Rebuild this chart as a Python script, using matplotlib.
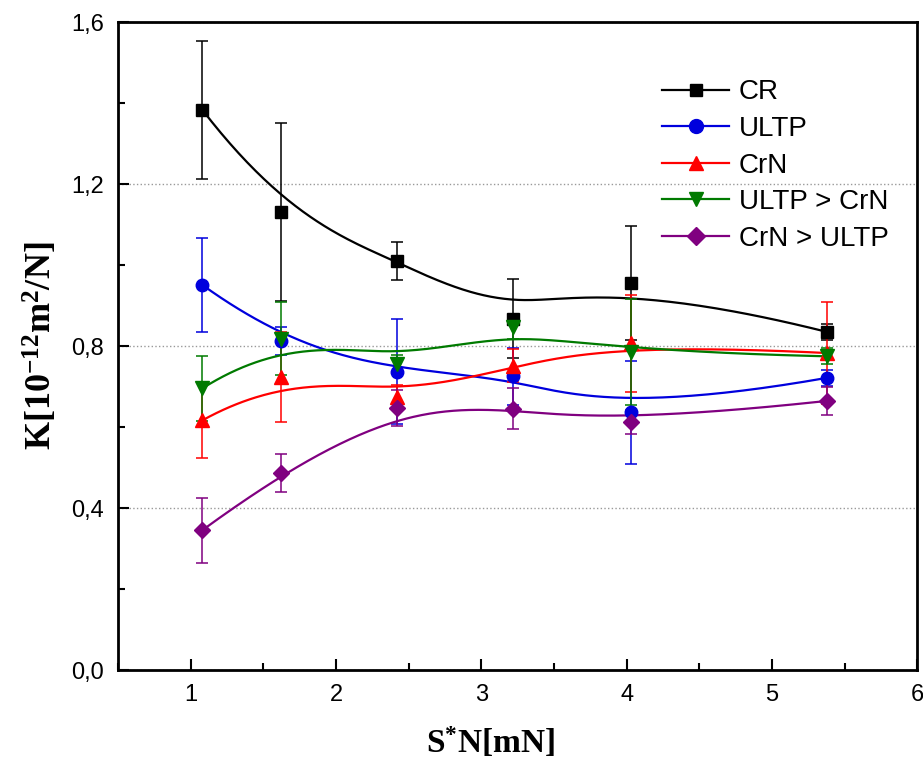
import matplotlib
matplotlib.use('Agg')
import matplotlib.pyplot as plt
from matplotlib.lines import Line2D
from matplotlib.ticker import FuncFormatter, MultipleLocator
import numpy as np

plt.rcParams['font.family'] = 'Liberation Sans'
plt.rcParams['mathtext.fontset'] = 'custom'
plt.rcParams['mathtext.rm'] = 'Liberation Serif'
plt.rcParams['mathtext.bf'] = 'Liberation Serif:bold'

# data
x = [1.08, 1.62, 2.42, 3.22, 4.03, 5.38]
names = ['CR', 'ULTP', 'CrN', 'ULTP > CrN', 'CrN > ULTP']
cr = [1.383, 1.132, 1.011, 0.868, 0.956, 0.835]
cr_err = [0.17, 0.22, 0.047, 0.097, 0.14, 0.02]
ultp = [0.951, 0.812, 0.737, 0.726, 0.637, 0.722]
ultp_err = [0.116, 0.035, 0.13, 0.07, 0.127, 0.02]
crn = [0.617, 0.724, 0.675, 0.752, 0.807, 0.783]
crn_err = [0.093, 0.11, 0.03, 0.04, 0.12, 0.125]
ultp_crn = [0.696, 0.818, 0.757, 0.848, 0.786, 0.775]
ultp_crn_err = [0.08, 0.09, 0.02, 0.03, 0.13, 0.02]
crn_ultp = [0.346, 0.487, 0.648, 0.646, 0.613, 0.665]
crn_ultp_err = [0.08, 0.047, 0.045, 0.05, 0.03, 0.035]

series = [cr, ultp, crn, ultp_crn, crn_ultp]
errors = [cr_err, ultp_err, crn_err, ultp_crn_err, crn_ultp_err]
colors = ['black', '#0000dd', '#ff0000', '#007a00', '#800080']
markers = ['s', 'o', '^', 'v', 'D']
msizes = [8, 9, 9.5, 9.5, 8]


def bspline(px, py, k=3, num=300):
    # clamped cubic B-spline using the points as control points (Origin style)
    px = np.asarray(px, float)
    py = np.asarray(py, float)
    n = len(px)
    knots = np.concatenate([np.zeros(k), np.linspace(0, 1, n - k + 1), np.ones(k)])
    u = np.linspace(0, 1 - 1e-9, num)
    B = np.zeros((num, len(knots) - 1))
    for i in range(len(knots) - 1):
        B[:, i] = (u >= knots[i]) & (u < knots[i + 1])
    for d in range(1, k + 1):
        Bn = np.zeros((num, len(knots) - 1 - d))
        for i in range(len(knots) - 1 - d):
            a = knots[i + d] - knots[i]
            b = knots[i + d + 1] - knots[i + 1]
            t1 = (u - knots[i]) / a * B[:, i] if a > 0 else 0
            t2 = (knots[i + d + 1] - u) / b * B[:, i + 1] if b > 0 else 0
            Bn[:, i] = t1 + t2
        B = Bn
    return B @ px, B @ py


fig = plt.figure(figsize=(9.23, 7.6), dpi=100)
ax = fig.add_axes([0.128, 0.118, 0.866, 0.853])

handles = []
for vals, err, c, m, ms, name in zip(series, errors, colors, markers, msizes, names):
    sx, sy = bspline(x, vals)
    ax.plot(sx, sy, color=c, linewidth=1.6)
    ax.errorbar(x, vals, yerr=err, fmt=m, color=c, markersize=ms,
                elinewidth=1.1, capsize=4.5, capthick=1.1)
    handles.append(Line2D([], [], color=c, marker=m, markersize=ms + 1, linewidth=1.6))

ax.set_xlim(0.5, 6)
ax.set_ylim(0, 1.6)
ax.xaxis.set_major_locator(MultipleLocator(1))
ax.xaxis.set_minor_locator(MultipleLocator(0.5))
ax.yaxis.set_major_locator(MultipleLocator(0.4))
ax.yaxis.set_minor_locator(MultipleLocator(0.2))
ax.yaxis.set_major_formatter(FuncFormatter(lambda v, p: ('%.1f' % v).replace('.', ',')))
ax.xaxis.set_major_formatter(FuncFormatter(lambda v, p: '%d' % v))
ax.tick_params(which='both', direction='in', width=1.5, labelsize=17, pad=10)
ax.tick_params(which='major', length=8)
ax.tick_params(which='minor', length=5)
ax.yaxis.grid(True, linestyle=':', color='#999999', linewidth=1)
for s in ax.spines.values():
    s.set_linewidth(2)

ax.set_xlabel(r'$\mathbf{S^{*}N[mN]}$', fontsize=24)
ax.xaxis.set_label_coords(0.466, -0.085)
ax.set_ylabel(r'$\mathbf{K[10^{-12}m^{2}/N]}$', fontsize=26, labelpad=8)

ax.legend(handles, names, loc='upper right', bbox_to_anchor=(0.995, 0.95),
          frameon=False, fontsize=20, handlelength=2.4, handletextpad=0.35,
          labelspacing=0.38)

fig.savefig('out.png', dpi=100)
